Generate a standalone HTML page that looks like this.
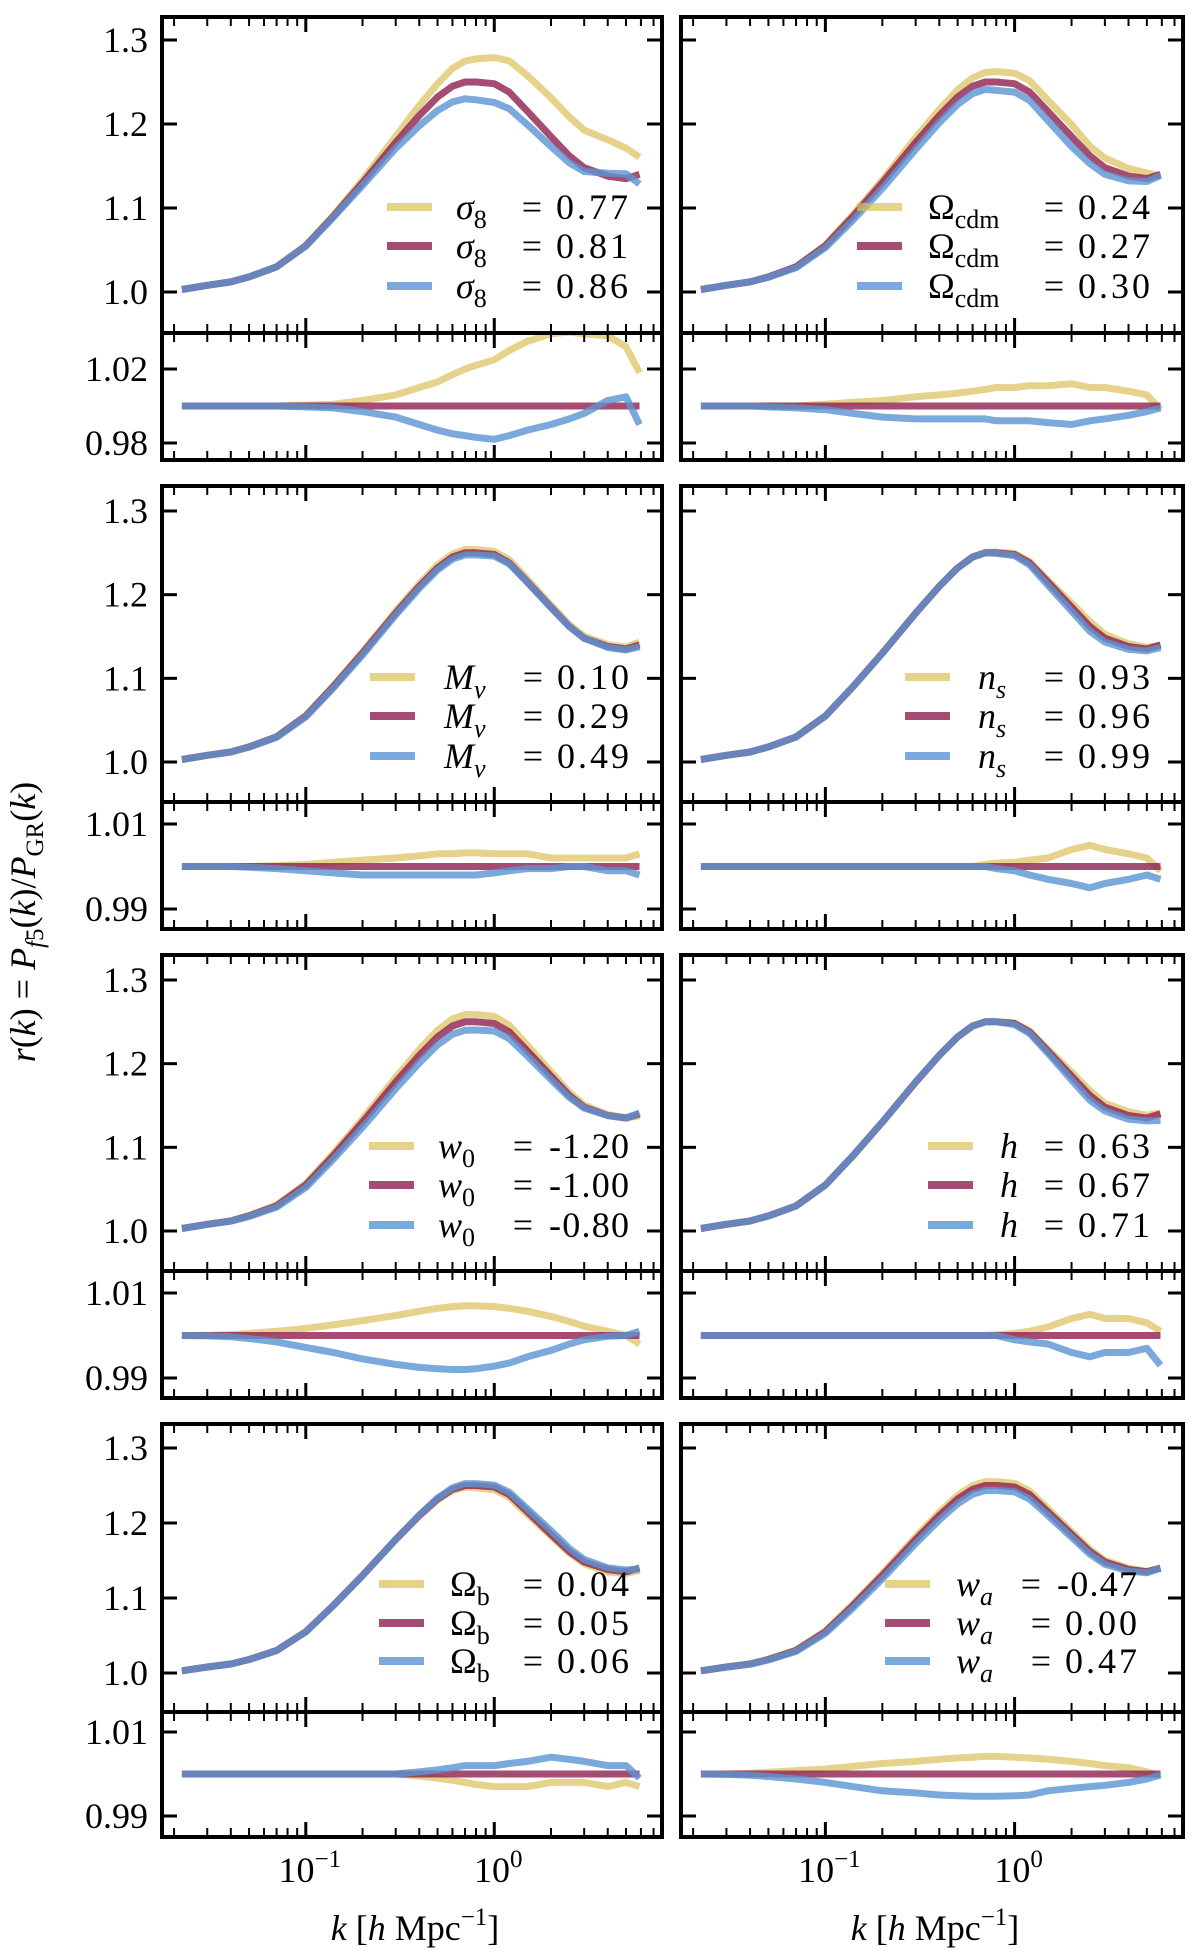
<!DOCTYPE html>
<html><head><meta charset="utf-8"><style>
html,body{margin:0;padding:0;background:#fff;}
svg{display:block;font-family:"Liberation Serif","DejaVu Serif",serif;}
</style></head><body>
<svg id="fig" width="1200" height="1955" viewBox="0 0 1200 1955" xmlns="http://www.w3.org/2000/svg"></svg>
<script>
// ---- data ----
const kGrid = [0.022,0.03,0.04,0.05,0.07,0.1,0.14,0.2,0.3,0.4,0.5,0.6,0.7,0.8,1.0,1.2,1.5,2,2.5,3,4,5,5.9];
const fiducial = [1.003,1.008,1.012,1.018,1.030,1.055,1.09,1.13,1.178,1.21,1.232,1.245,1.25,1.25,1.248,1.238,1.215,1.185,1.162,1.148,1.138,1.135,1.14];
const sigma8Low  = [1,1,1,1,1,1.0005,1.001,1.003,1.006,1.01,1.013,1.017,1.02,1.022,1.025,1.03,1.035,1.039,1.04,1.039,1.038,1.032,1.018];
const sigma8High = [1,1,1,1,1,0.9995,0.999,0.997,0.994,0.99,0.987,0.985,0.984,0.983,0.982,0.984,0.987,0.99,0.993,0.996,1.003,1.005,0.99];
const ocdmLow  = [1,1,1,1,1,1.001,1.002,1.003,1.005,1.006,1.007,1.008,1.009,1.01,1.01,1.011,1.011,1.012,1.01,1.01,1.008,1.006,0.998];
const ocdmHigh = [1,1,1,0.9995,0.999,0.998,0.996,0.994,0.993,0.993,0.993,0.993,0.993,0.992,0.992,0.992,0.991,0.99,0.992,0.993,0.995,0.997,0.999];
const mnuLow  = [1,1,1,1,1.0002,1.0005,1.001,1.0015,1.002,1.0025,1.003,1.003,1.0032,1.0032,1.003,1.003,1.003,1.002,1.002,1.002,1.002,1.002,1.003];
const mnuHigh = [1,1,1,0.9998,0.9995,0.999,0.9985,0.998,0.998,0.998,0.998,0.998,0.998,0.998,0.9985,0.999,0.9995,0.9995,1.0,1.0,0.999,0.999,0.998];
const nsLow  = [1,1,1,1,1,1,1,1,1,1,1,1,1.0005,1.0008,1.001,1.0015,1.002,1.004,1.005,1.004,1.003,1.002,0.999];
const nsHigh = [1,1,1,1,1,1,1,1,1,1,1,1,1,0.9995,0.999,0.998,0.997,0.996,0.995,0.996,0.997,0.998,0.997];
const w0Low  = [1,1,1.0002,1.0005,1.001,1.0017,1.0025,1.0035,1.0047,1.0057,1.0064,1.0068,1.007,1.007,1.0068,1.0064,1.0057,1.0045,1.0033,1.0022,1.001,1.0,0.998];
const w0High = [1,0.9999,0.9997,0.9993,0.9985,0.9972,0.996,0.9945,0.9932,0.9925,0.9922,0.992,0.992,0.9922,0.9928,0.9935,0.995,0.9965,0.998,0.999,0.9998,1.0,1.001];
const hLow  = [1,1,1,1,1,1,1,1,1,1,1,1,1,1.0002,1.0005,1.001,1.002,1.004,1.005,1.004,1.004,1.003,1.001];
const hHigh = [1,1,1,1,1,1,1,1,1,1,1,1,1,1,0.999,0.9985,0.998,0.996,0.995,0.996,0.996,0.997,0.993];
const obLow  = [1,1,1,1,1,1,1,1,1,0.9995,0.999,0.9985,0.998,0.9975,0.997,0.997,0.997,0.998,0.998,0.998,0.997,0.998,0.997];
const obHigh = [1,1,1,1,1,1,1,1,1,1.0005,1.001,1.0015,1.002,1.002,1.002,1.0025,1.003,1.004,1.0035,1.003,1.002,1.002,0.999];
const waLow  = [1,1,1.0002,1.0004,1.0008,1.0012,1.0018,1.0025,1.003,1.0035,1.0038,1.004,1.0042,1.0042,1.004,1.0038,1.0035,1.003,1.0025,1.002,1.0015,1.0005,0.9995];
const waHigh = [1,0.9999,0.9997,0.9994,0.9988,0.998,0.997,0.996,0.9955,0.995,0.9948,0.9947,0.9947,0.9947,0.9948,0.995,0.996,0.9966,0.997,0.9973,0.998,0.9988,0.9998];
const mainTicks = [1.0,1.1,1.2,1.3];
const mainTickLabels = ["1.0","1.1","1.2","1.3"];
const xTicks = [0.1,1];
const xTickLabels = [["10","−1"],["10","0"]];

// ---- layout ----
const NS="http://www.w3.org/2000/svg";
const svg=document.getElementById('fig');
const cols=[{x0:162,x1:662},{x0:681,x1:1183}];
const rows=[
 {top:17,sep:333,bot:460,y13:40,y10:292,lt:[1.02,0.98],ltl:["1.02","0.98"],lty:[369,443]},
 {top:486,sep:802,bot:929,y13:511,y10:762,lt:[1.01,0.99],ltl:["1.01","0.99"],lty:[824,909]},
 {top:955,sep:1271,bot:1398,y13:980,y10:1231,lt:[1.01,0.99],ltl:["1.01","0.99"],lty:[1293,1378]},
 {top:1424,sep:1712,bot:1837,y13:1448,y10:1673,lt:[1.01,0.99],ltl:["1.01","0.99"],lty:[1732,1816]}
];
const LMIN=-1.763, LMAX=0.890;
const COLORS=[{c:"#dcc05a",o:0.7,n:"low"},{c:"#8e1f4f",o:0.8,n:"fiducial"},{c:"#5b94d3",o:0.8,n:"high"}];
function sym(s,sub,italicSub){return '<tspan font-style="italic">'+s+'</tspan><tspan font-size="26" dy="9"'+(italicSub?' font-style="italic"':'')+'>'+sub+'</tspan>';}
const panels=[
 {r:0,c:0,lo:sigma8Low,hi:sigma8High,lab:sym('σ','8',false),vals:["0.77","0.81","0.86"],ly:[207,246,286],sx:387,tx:456,tw:172,name:"sigma8"},
 {r:0,c:1,lo:ocdmLow,hi:ocdmHigh,lab:'<tspan>Ω</tspan><tspan font-size="26" dy="9">cdm</tspan>',vals:["0.24","0.27","0.30"],ly:[207,246,286],sx:857,tx:928,tw:222,name:"omega-cdm"},
 {r:1,c:0,lo:mnuLow,hi:mnuHigh,lab:sym('M','ν',true),vals:["0.10","0.29","0.49"],ly:[677,716,756],sx:370,tx:444,tw:185,name:"m-nu"},
 {r:1,c:1,lo:nsLow,hi:nsHigh,lab:sym('n','s',true),vals:["0.93","0.96","0.99"],ly:[677,716,756],sx:905,tx:978,tw:172,name:"n-s"},
 {r:2,c:0,lo:w0Low,hi:w0High,lab:sym('w','0',false),vals:["-1.20","-1.00","-0.80"],ly:[1146,1185,1225],sx:369,tx:438,tw:191,name:"w0"},
 {r:2,c:1,lo:hLow,hi:hHigh,lab:'<tspan font-style="italic">h</tspan>',vals:["0.63","0.67","0.71"],ly:[1146,1185,1225],sx:928,tx:1000,tw:150,name:"h"},
 {r:3,c:0,lo:obLow,hi:obHigh,lab:'<tspan>Ω</tspan><tspan font-size="26" dy="9">b</tspan>',vals:["0.04","0.05","0.06"],ly:[1584,1623,1661],sx:379,tx:450,tw:179,name:"omega-b"},
 {r:3,c:1,lo:waLow,hi:waHigh,lab:sym('w','a',true),vals:["-0.47","0.00","0.47"],ly:[1584,1623,1661],sx:885,tx:956,tw:181,name:"wa"}
];
function el(tag,attrs,parent){const e=document.createElementNS(NS,tag);for(const k in attrs)e.setAttribute(k,attrs[k]);(parent||svg).appendChild(e);return e;}
function xs(col,k){return col.x0+(Math.log10(k)-LMIN)/(LMAX-LMIN)*(col.x1-col.x0);}

let clipId=0;
panels.forEach(p=>{
 const col=cols[p.c], row=rows[p.r];
 const g=el('g',{});
 
 
 const yMain=v=>row.y10-(v-1.0)/0.3*(row.y10-row.y13);
 const dL=(row.lty[1]-row.lty[0])/(row.lt[0]-row.lt[1]);
 const yLow=v=>row.lty[0]+(row.lt[0]-v)*dL;
 const defs=el('defs',{},g);
 const c1='clip'+(clipId++), c2='clip'+(clipId++);
 const cp1=el('clipPath',{id:c1},defs); el('rect',{x:col.x0,y:row.top,width:col.x1-col.x0,height:row.sep-row.top},cp1);
 const cp2=el('clipPath',{id:c2},defs); el('rect',{x:col.x0,y:row.sep,width:col.x1-col.x0,height:row.bot-row.sep},cp2);
 const ratios=[p.lo,null,p.hi];
 const gm=el('g',{'clip-path':'url(#'+c1+')'},g);
  
 const gl=el('g',{'clip-path':'url(#'+c2+')'},g);
  
 ratios.forEach((r,i)=>{
  let d='',d2='';
  kGrid.forEach((k,j)=>{
   const rv=r?r[j]:1;
   const v=fiducial[j]*rv;
   d+=(j?'L':'M')+xs(col,k).toFixed(1)+','+yMain(v).toFixed(1);
   d2+=(j?'L':'M')+xs(col,k).toFixed(1)+','+yLow(rv).toFixed(1);
  });
  const pm=el('path',{d:d,fill:'none',stroke:COLORS[i].c,'stroke-opacity':COLORS[i].o,'stroke-width':7,'stroke-linejoin':'round'},gm);
  
  
  const pl=el('path',{d:d2,fill:'none',stroke:COLORS[i].c,'stroke-opacity':COLORS[i].o,'stroke-width':7,'stroke-linejoin':'round'},gl);
  
  
 });
 el('rect',{x:col.x0,y:row.top,width:col.x1-col.x0,height:row.bot-row.top,fill:'none',stroke:'#000','stroke-width':4},g);
 el('line',{x1:col.x0,x2:col.x1,y1:row.sep,y2:row.sep,stroke:'#000','stroke-width':4},g);
 const segs=[[row.top,row.sep],[row.sep,row.bot]];
 for(let dec=-2;dec<=0;dec++){for(let m=1;m<=9;m++){
  const k=m*Math.pow(10,dec); const lk=Math.log10(k); if(lk<LMIN||lk>LMAX) continue;
  const x=xs(col,k); const L=m===1?15:9; const w=m===1?3:2;
  segs.forEach(s=>{
   el('line',{x1:x,x2:x,y1:s[0],y2:s[0]+L,stroke:'#000','stroke-width':w},g);
   el('line',{x1:x,x2:x,y1:s[1],y2:s[1]-L,stroke:'#000','stroke-width':w},g);
  });
 }}
 mainTicks.forEach((v,i)=>{
  const y=yMain(v);
  el('line',{x1:col.x0,x2:col.x0+15,y1:y,y2:y,stroke:'#000','stroke-width':3},g);
  el('line',{x1:col.x1,x2:col.x1-15,y1:y,y2:y,stroke:'#000','stroke-width':3},g);
  if(p.c===0){const t=el('text',{x:148,y:y+12,'font-size':36,'text-anchor':'end'},g);t.textContent=mainTickLabels[i];
    }
 });
 row.lt.forEach((v,i)=>{
  const y=yLow(v);
  el('line',{x1:col.x0,x2:col.x0+15,y1:y,y2:y,stroke:'#000','stroke-width':3},g);
  el('line',{x1:col.x1,x2:col.x1-15,y1:y,y2:y,stroke:'#000','stroke-width':3},g);
  if(p.c===0){const t=el('text',{x:148,y:y+12,'font-size':36,'text-anchor':'end'},g);t.textContent=row.ltl[i];
    }
 });
 const lg=el('g',{},g);
  
 p.vals.forEach((val,i)=>{
  const y=p.ly[i];
  const right=p.tx+p.tw;
  el('line',{x1:p.sx,x2:p.sx+45,y1:y,y2:y,stroke:COLORS[i].c,'stroke-opacity':COLORS[i].o,'stroke-width':8},lg);
  const t=el('text',{x:p.tx,y:y+12,'font-size':36},lg);
  t.innerHTML=p.lab;
   
  const eq=el('text',{x:right-(val.length>4?96:86),y:y+12,'font-size':36,'text-anchor':'end'},lg);
  eq.textContent='=';
   
  const vt=el('text',{x:right,y:y+12,'font-size':36,'text-anchor':'end',textLength:(val.length>4?80:72),lengthAdjust:'spacing'},lg);
  vt.textContent=val;
   
 });
 if(p.r===3){
  xTicks.forEach((k,i)=>{
   const x=xs(col,k);
   const t=el('text',{x:x+4,y:1882,'font-size':36,'text-anchor':'middle'},g);
   t.innerHTML=xTickLabels[i][0]+'<tspan font-size="25" dy="-15">'+xTickLabels[i][1]+'</tspan>';
    
  });
  const xl=el('text',{x:(col.x0+col.x1)/2+3,y:1940,'font-size':36,'text-anchor':'middle'},g);
  xl.innerHTML='<tspan font-style="italic">k</tspan> [<tspan font-style="italic">h</tspan> Mpc<tspan font-size="25" dy="-15">−1</tspan><tspan dy="15">]</tspan>';
   
 }
});
const yl=el('text',{x:0,y:0,'font-size':36,'text-anchor':'middle',transform:'translate(35,922) rotate(-90)'});
yl.innerHTML='<tspan font-style="italic">r</tspan>(<tspan font-style="italic">k</tspan>) = <tspan font-style="italic">P</tspan><tspan font-size="25" dy="8"><tspan font-style="italic">f</tspan>5</tspan><tspan dy="-8">(<tspan font-style="italic">k</tspan>)/<tspan font-style="italic">P</tspan></tspan><tspan font-size="25" dy="8">GR</tspan><tspan dy="-8">(<tspan font-style="italic">k</tspan>)</tspan>';


</script>
</body></html>
